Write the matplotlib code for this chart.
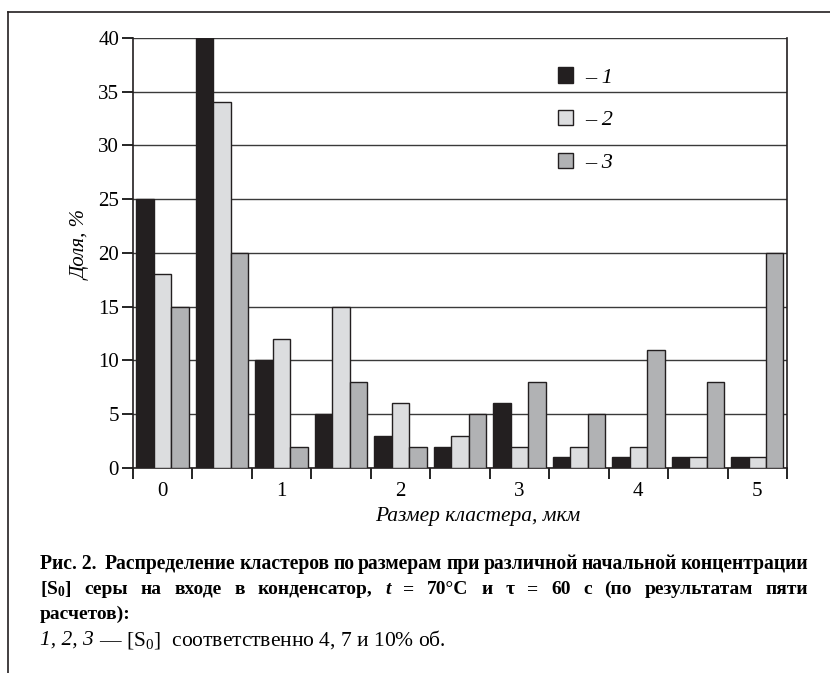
import matplotlib
matplotlib.use("Agg")
import matplotlib.pyplot as plt
from matplotlib.lines import Line2D
import numpy as np

plt.rcParams['font.family'] = ['Liberation Serif', 'DejaVu Serif']
plt.rcParams['mathtext.fontset'] = 'custom'
plt.rcParams['mathtext.rm'] = 'Liberation Serif'
plt.rcParams['mathtext.it'] = 'Liberation Serif:italic'
plt.rcParams['mathtext.bf'] = 'Liberation Serif:bold'

# cluster size classes, step 0.5 um
sizes = [0, 0.5, 1, 1.5, 2, 2.5, 3, 3.5, 4, 4.5, 5]
share_4 = [25, 40, 10, 5, 3, 2, 6, 1, 1, 1, 1]     # [S0] = 4 %
share_7 = [18, 34, 12, 15, 6, 3, 2, 2, 2, 1, 1]    # [S0] = 7 %
share_10 = [15, 20, 2, 8, 2, 5, 8, 5, 11, 8, 20]   # [S0] = 10 %
labels = ['– 1', '– 2', '– 3']
colors = ['#231f20', '#dcdddf', '#b1b2b4']

fig = plt.figure(figsize=(8.3, 6.73), dpi=100)
ax = fig.add_axes([0.1602, 0.3046, 0.788, 0.639])

x = np.array(sizes)
w = 0.147
series = [share_4, share_7, share_10]
bars = []
for i, vals in enumerate(series):
    b = ax.bar(x + (i - 1) * w, vals, width=w, color=colors[i],
               edgecolor='#231f20', linewidth=1.0, zorder=3, label=labels[i])
    bars.append(b)

ax.set_xlim(-0.25, 5.25)
ax.set_ylim(0, 40)
ax.set_yticks(range(0, 41, 5))
ax.yaxis.grid(True, color='#3a3a3a', linewidth=1.0, zorder=0)
ax.set_axisbelow(True)

# group boundaries carry the tick marks, the labels sit at group centres
ax.set_xticks(np.arange(0, 5.01, 1))
ax.set_xticks(np.arange(-0.25, 5.3, 0.5), minor=True)
ax.tick_params(axis='x', which='major', length=0, pad=10, labelsize=15)
ax.tick_params(axis='x', which='minor', length=8, width=1.2, direction='out')
ax.tick_params(axis='y', length=8, width=1.2, direction='out', labelsize=15, pad=2)

for s in ['left', 'right', 'bottom']:
    ax.spines[s].set_linewidth(1.2)
    ax.spines[s].set_color('#231f20')
ax.spines['top'].set_visible(False)

leg = ax.legend(handles=bars, loc='upper left', bbox_to_anchor=(0.619, 0.978),
                frameon=False, prop={'style': 'italic', 'size': 16},
                handlelength=0.68, handleheight=0.68, labelspacing=1.0,
                handletextpad=0.55)

fig.text(0.098, 0.636, 'Доля, %', rotation=90, style='italic', fontsize=15,
         ha='center', va='center')
fig.text(0.575, 0.233, 'Размер кластера, мкм', style='italic', fontsize=15.5,
         ha='center', va='center')

# caption
renderer = fig.canvas.get_renderer()


def width_of(t):
    bb = t.get_window_extent(renderer=renderer)
    return bb.width / fig.bbox.width


def place_run(pieces, x0, y, **kw):
    # lay out (text, style) pieces one after another on a baseline
    xpos = x0
    for s, style in pieces:
        t = fig.text(xpos, y, s, ha='left', va='baseline', style=style, **kw)
        xpos += width_of(t)


def justify(words, x0, x1, y, italic=(), **kw):
    # spread words so the line fills x0..x1
    texts = [fig.text(0, y, s, ha='left', va='baseline',
                      style='italic' if s in italic else 'normal', **kw)
             for s in words]
    widths = [width_of(t) for t in texts]
    gap = (x1 - x0 - sum(widths)) / (len(words) - 1)
    xpos = x0
    for t, wd in zip(texts, widths):
        t.set_x(xpos)
        xpos += wd + gap


x_left, x_right = 0.048, 0.974
justify(['Рис. 2. ', 'Распределение', 'кластеров', 'по', 'размерам', 'при',
         'различной', 'начальной', 'концентрации'], x_left, x_right, 0.1545,
        fontsize=14.1, fontweight='bold')
justify([r'[S$_\mathbf{0}$]', 'серы', 'на', 'входе', 'в', 'конденсатор,',
         't', '=', '70°C', 'и', 'τ', '=', '60', 'с', '(по',
         'результатам', 'пяти'], x_left, x_right, 0.1174, italic=('t',),
        fontsize=14, fontweight='bold')
fig.text(x_left, 0.0802, 'расчетов):', ha='left', va='baseline',
         fontsize=14, fontweight='bold')
place_run([('1, 2, 3', 'italic'),
           (r' — [S$_0$]  соответственно 4, 7 и 10% об.', 'normal')],
          x_left, 0.0416, fontsize=15.5)

# page frame: top and left rules
fig.add_artist(Line2D([0.0096, 1.0], [0.982, 0.982], color='#231f20', linewidth=1.2))
fig.add_artist(Line2D([0.0096, 0.0096], [0.0, 0.982], color='#231f20', linewidth=1.2))

fig.savefig('out.png', dpi=100)
